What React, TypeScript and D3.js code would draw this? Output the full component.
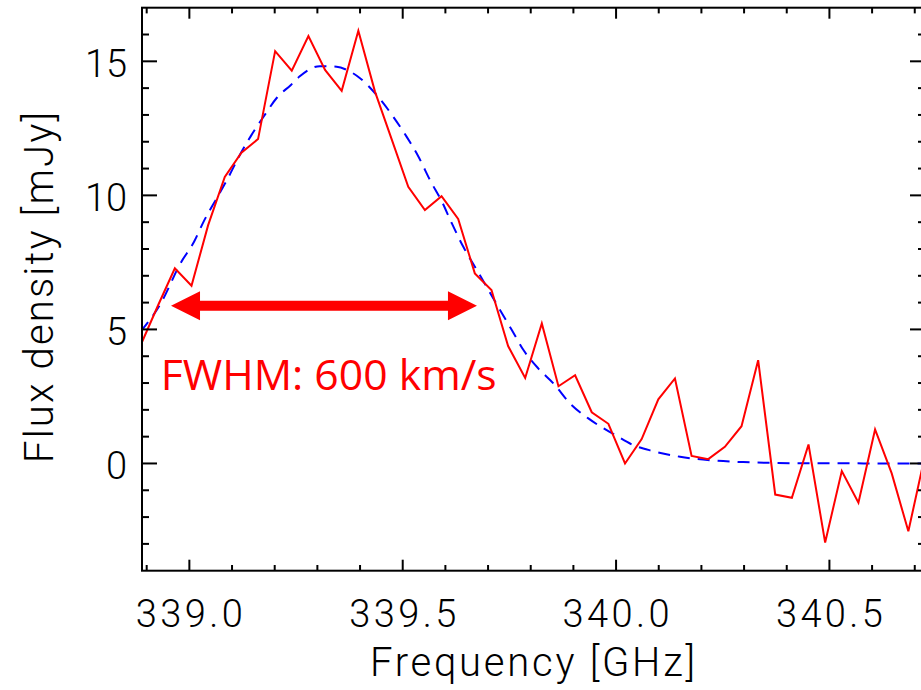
import React from "react";
import * as d3 from "d3";

// Observed spectrum (red)
const FREQ = [338.888, 338.927, 338.966, 339.005, 339.044, 339.083, 339.122, 339.161, 339.201, 339.240, 339.279, 339.318, 339.357, 339.396, 339.435, 339.474, 339.513, 339.552, 339.591, 339.630, 339.669, 339.708, 339.747, 339.787, 339.826, 339.865, 339.904, 339.943, 339.982, 340.021, 340.060, 340.099, 340.138, 340.177, 340.216, 340.255, 340.294, 340.333, 340.373, 340.412, 340.451, 340.490, 340.529, 340.568, 340.607, 340.646, 340.685, 340.724];
const FLUX = [4.49, 5.91, 7.28, 6.63, 8.89, 10.69, 11.59, 12.10, 15.38, 14.65, 15.94, 14.68, 13.90, 16.14, 13.87, 12.10, 10.32, 9.45, 9.97, 9.12, 7.09, 6.47, 4.38, 3.19, 5.22, 2.88, 3.29, 1.91, 1.48, 0.0, 0.91, 2.39, 3.17, 0.28, 0.16, 0.62, 1.39, 3.85, -1.16, -1.28, 0.71, -2.95, -0.28, -1.46, 1.27, -0.37, -2.53, 0.3];

// Gaussian fit (blue dashed)
const FIT_FREQ = [338.886, 338.933, 338.980, 339.011, 339.034, 339.064, 339.089, 339.117, 339.144, 339.175, 339.206, 339.238, 339.258, 339.306, 339.345, 339.369, 339.400, 339.439, 339.478, 339.509, 339.537, 339.564, 339.592, 339.615, 339.642, 339.674, 339.701, 339.728, 339.756, 339.783, 339.818, 339.853, 339.892, 339.935, 339.978, 339.998, 340.041, 340.087, 340.150, 340.220, 340.298, 340.431, 340.724];
const FIT_FLUX = [4.92, 5.97, 7.49, 8.27, 9.04, 9.89, 10.6, 11.47, 12.21, 12.96, 13.66, 14.12, 14.43, 14.82, 14.8, 14.68, 14.37, 13.74, 12.93, 12.19, 11.44, 10.57, 9.76, 8.96, 8.08, 7.21, 6.47, 5.72, 4.97, 4.23, 3.54, 2.99, 2.24, 1.68, 1.24, 1.06, 0.68, 0.46, 0.25, 0.12, 0.05, 0.01, 0.0];

const X_MAJOR = [339.0, 339.5, 340.0, 340.5];
const X_MINOR = [338.9, 339.1, 339.2, 339.3, 339.4, 339.6, 339.7, 339.8, 339.9, 340.1, 340.2, 340.3, 340.4, 340.6, 340.7];
const X_LABELS = ["339.0", "339.5", "340.0", "340.5"];
const Y_MAJOR = [0, 5, 10, 15];
const Y_MINOR = [-3, -2, -1, 1, 2, 3, 4, 6, 7, 8, 9, 11, 12, 13, 14, 16];
const Y_LABELS = ["0", "5", "10", "15"];

const ARROW_FROM = 338.957;
const ARROW_TO = 339.674;
const ARROW_Y = 5.88;
const ANNOTATION = "FWHM: 600 km/s";

export default function App() {
  const W = 921, H = 690;
  const L = 142, R = 925, T = 7.7, B = 570.7;
  const x = d3.scaleLinear().domain([338.889, 340.724]).range([L, R]);
  const y = d3.scaleLinear().domain([-4, 17]).range([B, T]);

  const spec = FREQ.map((f, i) => [f, FLUX[i]] as [number, number]);
  const fit = FIT_FREQ.map((f, i) => [f, FIT_FLUX[i]] as [number, number]);
  const line = d3.line<[number, number]>().x(d => x(d[0])).y(d => y(d[1]));
  const fitLine = d3.line<[number, number]>().x(d => x(d[0])).y(d => y(d[1])).curve(d3.curveMonotoneX);

  const tickFont = "Roboto, 'DejaVu Sans', sans-serif";
  const ax1 = x(ARROW_FROM), ax2 = x(ARROW_TO), ay = y(ARROW_Y);
  const hl = 29, hh = 14.5, sh = 5;
  const arrowPts = [
    [ax1, ay], [ax1 + hl, ay - hh], [ax1 + hl, ay - sh], [ax2 - hl, ay - sh], [ax2 - hl, ay - hh],
    [ax2, ay], [ax2 - hl, ay + hh], [ax2 - hl, ay + sh], [ax1 + hl, ay + sh], [ax1 + hl, ay + hh],
  ].map(p => p.join(",")).join(" ");

  return (
    <svg width={W} height={H} style={{ position: "absolute", left: 0, top: 0, background: "#fff" }}>
      <defs>
        <clipPath id="plot">
          <rect x={L} y={T} width={R - L} height={B - T} />
        </clipPath>
      </defs>
      <rect x={0} y={0} width={W} height={H} fill="#fff" />
      <g clipPath="url(#plot)">
        <path d={fitLine(fit) || ""} fill="none" stroke="#0000ff" strokeWidth={2} strokeDasharray="12,8" />
        <path d={line(spec) || ""} fill="none" stroke="#ff0000" strokeWidth={2} strokeLinejoin="miter" />
      </g>
      {/* frame */}
      <rect x={L} y={T} width={R - L} height={B - T} fill="none" stroke="#000" strokeWidth={2} />
      {/* x ticks */}
      {X_MAJOR.map(v => (
        <g key={"xm" + v}>
          <line x1={x(v)} x2={x(v)} y1={B} y2={B - 11} stroke="#000" strokeWidth={2} />
          <line x1={x(v)} x2={x(v)} y1={T} y2={T + 11} stroke="#000" strokeWidth={2} />
        </g>
      ))}
      {X_MINOR.map(v => (
        <g key={"xn" + v}>
          <line x1={x(v)} x2={x(v)} y1={B} y2={B - 5.7} stroke="#000" strokeWidth={2} />
          <line x1={x(v)} x2={x(v)} y1={T} y2={T + 5.7} stroke="#000" strokeWidth={2} />
        </g>
      ))}
      {/* y ticks */}
      {Y_MAJOR.map(v => (
        <g key={"ym" + v}>
          <line x1={L} x2={L + 15} y1={y(v)} y2={y(v)} stroke="#000" strokeWidth={2} />
          <line x1={R} x2={R - 15} y1={y(v)} y2={y(v)} stroke="#000" strokeWidth={2} />
        </g>
      ))}
      {Y_MINOR.map(v => (
        <g key={"yn" + v}>
          <line x1={L} x2={L + 7} y1={y(v)} y2={y(v)} stroke="#000" strokeWidth={2} />
          <line x1={R} x2={R - 7} y1={y(v)} y2={y(v)} stroke="#000" strokeWidth={2} />
        </g>
      ))}
      {/* tick labels */}
      {X_MAJOR.map((v, i) => (
        <text key={"xl" + v} x={x(v)} y={627} textAnchor="middle" fontFamily={tickFont} fontWeight={300} fontSize={38} textLength={107} lengthAdjust="spacing" fill="#000">
          {X_LABELS[i]}
        </text>
      ))}
      {Y_MAJOR.map((v, i) => (
        <text key={"yl" + v} x={127} y={y(v) + 15.5} textAnchor="end" fontFamily={tickFont} fontWeight={300} fontSize={38} textLength={Y_LABELS[i].length * 21} lengthAdjust="spacing" fill="#000">
          {Y_LABELS[i]}
        </text>
      ))}
      {/* axis titles */}
      <text x={532.5} y={676} textAnchor="middle" fontFamily={tickFont} fontWeight={300} fontSize={40} textLength={325} lengthAdjust="spacing" fill="#000">
        Frequency [GHz]
      </text>
      <text transform="translate(53,287.5) rotate(-90)" textAnchor="middle" fontFamily={tickFont} fontWeight={300} fontSize={40} textLength={351} lengthAdjust="spacing" fill="#000">
        Flux density [mJy]
      </text>
      {/* annotation */}
      <polygon points={arrowPts} fill="#ff0000" />
      <text x={160.7} y={390} fontFamily="'Open Sans', 'Liberation Sans', sans-serif" fontSize={42} fill="#ff0000" textLength={336} lengthAdjust="spacingAndGlyphs">
        {ANNOTATION}
      </text>
    </svg>
  );
}
